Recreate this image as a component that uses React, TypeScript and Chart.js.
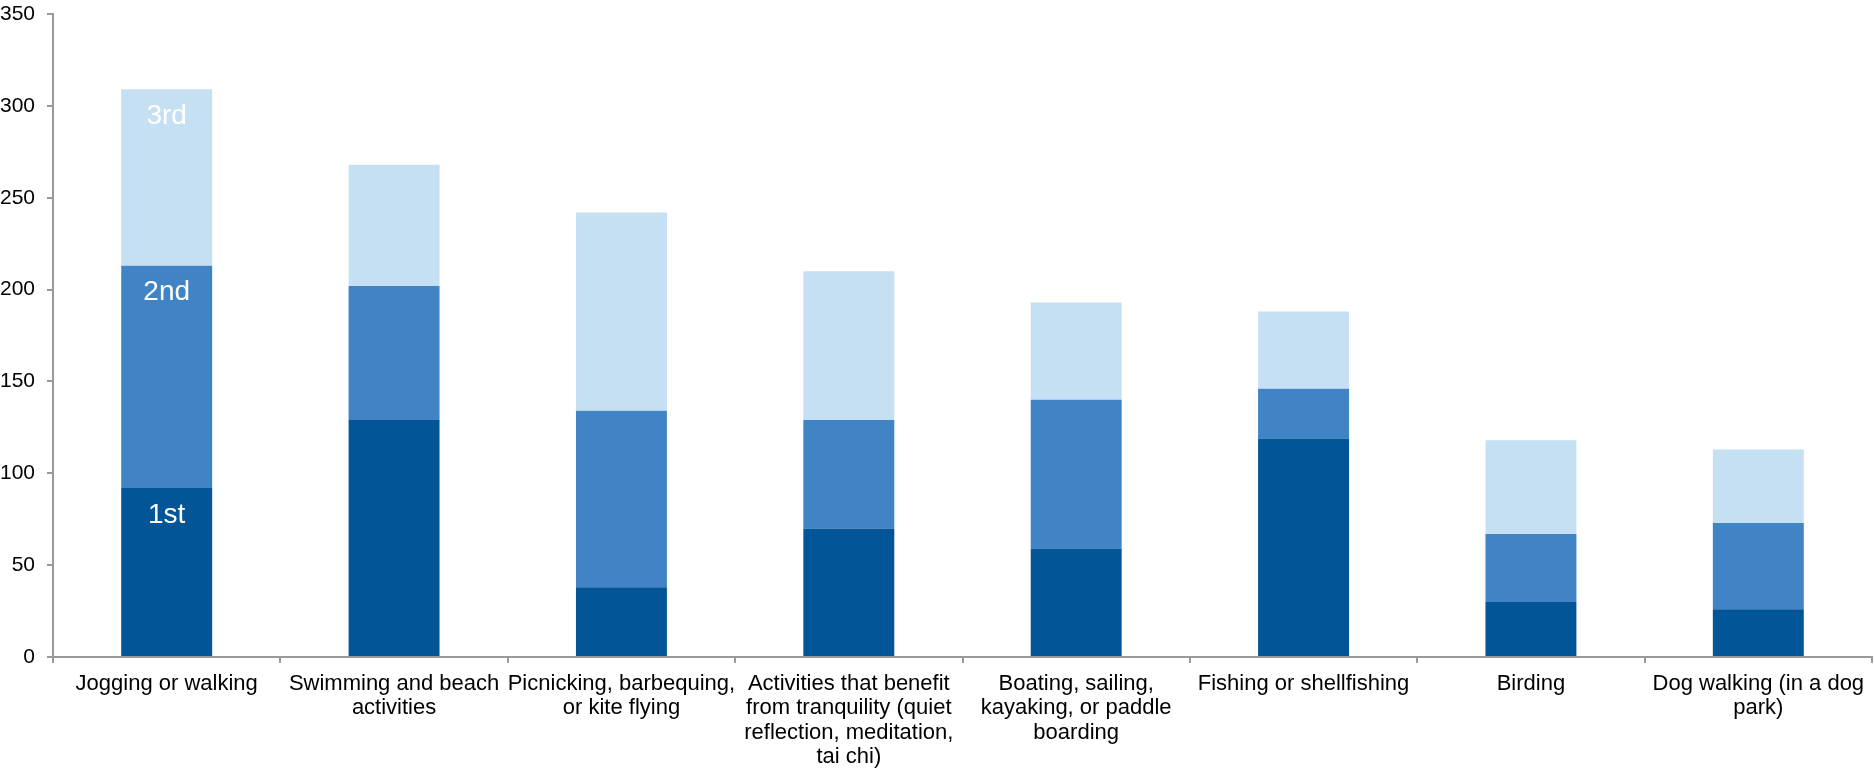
import React, { useEffect, useRef } from "react";
import { Chart, registerables } from "chart.js";

Chart.register(...registerables);

const categories: string[][] = [
  ["Jogging or walking"],
  ["Swimming and beach", "activities"],
  ["Picnicking, barbequing,", "or kite flying"],
  ["Activities that benefit", "from tranquility (quiet", "reflection, meditation,", "tai chi)"],
  ["Boating, sailing,", "kayaking, or paddle", "boarding"],
  ["Fishing or shellfishing"],
  ["Birding"],
  ["Dog walking (in a dog", "park)"],
];

const firstChoice = [92, 129, 38, 70, 59, 119, 30, 26];
const secondChoice = [121, 73, 96, 59, 81, 27, 37, 47];
const thirdChoice = [96, 66, 108, 81, 53, 42, 51, 40];

const seriesNames = ["1st", "2nd", "3rd"];
const seriesColors = ["#025596", "#4084C6", "#C5DFF3"];

const yMax = 350;
const yStep = 50;

const FONT = "'Liberation Sans', Arial, sans-serif";

const segmentLabelPlugin = {
  id: "segmentLabels",
  afterDatasetsDraw(chart: any) {
    const ctx = chart.ctx;
    ctx.save();
    ctx.fillStyle = "#ffffff";
    ctx.font = `28px ${FONT}`;
    ctx.textAlign = "center";
    ctx.textBaseline = "middle";
    chart.data.datasets.forEach((ds: any, i: number) => {
      const meta = chart.getDatasetMeta(i);
      const el = meta.data[0];
      if (!el) return;
      ctx.fillText(ds.label, el.x, el.y + 27);
    });
    ctx.restore();
  },
};

export default function App() {
  const canvasRef = useRef<HTMLCanvasElement | null>(null);

  useEffect(() => {
    document.body.style.margin = "0";
    const canvas = canvasRef.current;
    if (!canvas) return;
    const data = [firstChoice, secondChoice, thirdChoice];
    const chart = new Chart(canvas, {
      type: "bar",
      data: {
        labels: categories,
        datasets: data.map((values, i) => ({
          label: seriesNames[i],
          data: values,
          backgroundColor: seriesColors[i],
          borderWidth: 0,
          barPercentage: 0.4,
          categoryPercentage: 1,
        })),
      },
      plugins: [segmentLabelPlugin],
      options: {
        animation: false,
        responsive: false,
        maintainAspectRatio: false,
        layout: { padding: { top: 14, right: 2, left: 0, bottom: 0 } },
        plugins: {
          legend: { display: false },
          tooltip: { enabled: false },
        },
        scales: {
          x: {
            stacked: true,
            grid: {
              display: true,
              drawOnChartArea: false,
              drawTicks: true,
              tickLength: 6,
              color: "#9a9a9a",
              lineWidth: 2,
              offset: true,
            },
            border: { display: true, color: "#9a9a9a", width: 2 },
            ticks: {
              color: "#000000",
              font: { family: FONT, size: 22, lineHeight: 1.1 },
              padding: 9,
              maxRotation: 0,
              autoSkip: false,
            },
            afterFit(scale: any) {
              scale.height = 112;
              scale.paddingLeft = 0;
              scale.paddingRight = 0;
            },
          },
          y: {
            stacked: true,
            min: 0,
            max: yMax,
            grid: {
              display: true,
              drawOnChartArea: false,
              drawTicks: true,
              tickLength: 6,
              color: "#9a9a9a",
              lineWidth: 2,
            },
            border: { display: true, color: "#9a9a9a", width: 2 },
            ticks: {
              stepSize: yStep,
              color: "#000000",
              font: { family: FONT, size: 21 },
              padding: 12,
            },
            afterFit(scale: any) {
              scale.width = 53;
              scale.paddingTop = 0;
              scale.paddingBottom = 0;
            },
          },
        },
      },
    });
    return () => chart.destroy();
  }, []);

  return (
    <div style={{ position: "fixed", left: 0, top: 0, width: 1874, height: 769, background: "#ffffff" }}>
      <canvas ref={canvasRef} width={1874} height={769} style={{ display: "block", width: 1874, height: 769 }} />
    </div>
  );
}
